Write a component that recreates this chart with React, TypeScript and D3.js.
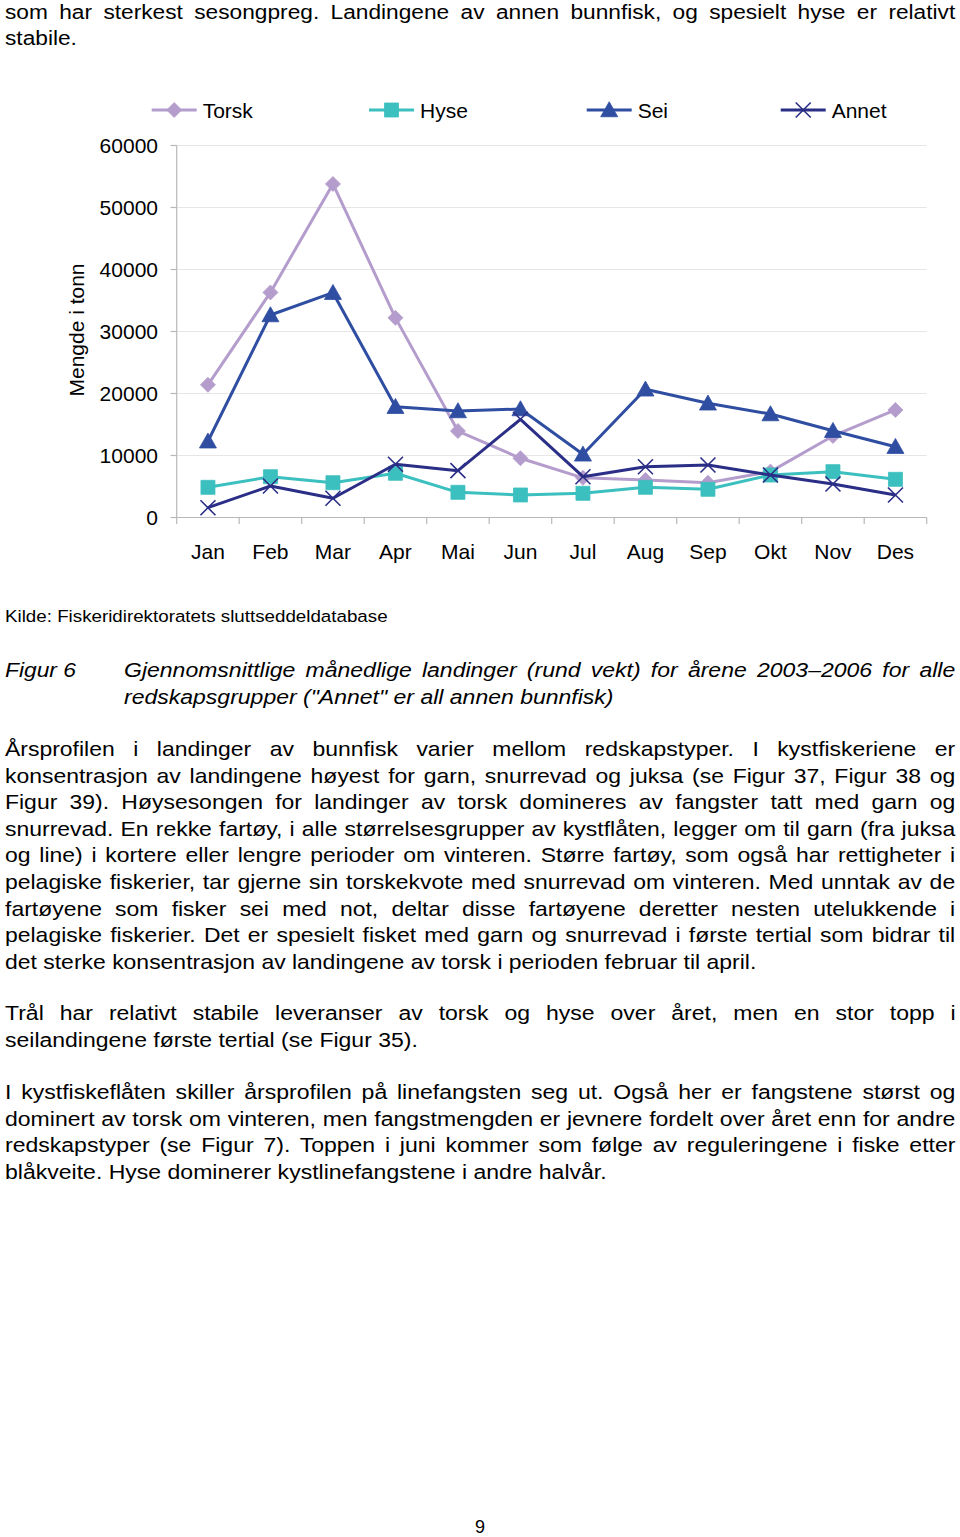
import React, { useEffect, useRef } from "react";
import * as d3 from "d3";

const months = ["Jan", "Feb", "Mar", "Apr", "Mai", "Jun", "Jul", "Aug", "Sep", "Okt", "Nov", "Des"];
const torsk = [21400, 36300, 53800, 32200, 13950, 9550, 6400, 6050, 5600, 7400, 13150, 17350];
const hyse = [4870, 6580, 5610, 7130, 4060, 3630, 3900, 4870, 4550, 6850, 7390, 6160];
const sei = [12300, 32660, 36260, 17870, 17180, 17500, 10190, 20680, 18420, 16690, 14000, 11420];
const annet = [1580, 5080, 3100, 8580, 7550, 15840, 6580, 8190, 8470, 6850, 5400, 3630];
const yTicks = [0, 10000, 20000, 30000, 40000, 50000, 60000];
const seriesNames = ["Torsk", "Hyse", "Sei", "Annet"];
const seriesValues = [torsk, hyse, sei, annet];
const seriesColors = ["#b49dcc", "#3cbfbf", "#2f4ea2", "#2b2e86"];
const seriesMarkers = ["diamond", "square", "triangle", "x"];
const yTitle = "Mengde i tonn";

const topLines = [
  "som har sterkest sesongpreg. Landingene av annen bunnfisk, og spesielt hyse er relativt",
  "stabile.",
];
const sourceLine = "Kilde: Fiskeridirektoratets sluttseddeldatabase";
const captionLabel = "Figur 6";
const captionLines = [
  "Gjennomsnittlige månedlige landinger (rund vekt) for årene 2003–2006 for alle",
  "redskapsgrupper (\"Annet\" er all annen bunnfisk)",
];
const para1 = [
  "Årsprofilen i landinger av bunnfisk varier mellom redskapstyper. I kystfiskeriene er",
  "konsentrasjon av landingene høyest for garn, snurrevad og juksa (se Figur 37, Figur 38 og",
  "Figur 39). Høysesongen for landinger av torsk domineres av fangster tatt med garn og",
  "snurrevad. En rekke fartøy, i alle størrelsesgrupper av kystflåten, legger om til garn (fra juksa",
  "og line) i kortere eller lengre perioder om vinteren. Større fartøy, som også har rettigheter i",
  "pelagiske fiskerier, tar gjerne sin torskekvote med snurrevad om vinteren. Med unntak av de",
  "fartøyene som fisker sei med not, deltar disse fartøyene deretter nesten utelukkende i",
  "pelagiske fiskerier. Det er spesielt fisket med garn og snurrevad i første tertial som bidrar til",
  "det sterke konsentrasjon av landingene av torsk i perioden februar til april.",
];
const para2 = [
  "Trål har relativt stabile leveranser av torsk og hyse over året, men en stor topp i",
  "seilandingene første tertial (se Figur 35).",
];
const para3 = [
  "I kystfiskeflåten skiller årsprofilen på linefangsten seg ut. Også her er fangstene størst og",
  "dominert av torsk om vinteren, men fangstmengden er jevnere fordelt over året enn for andre",
  "redskapstyper (se Figur 7). Toppen i juni kommer som følge av reguleringene i fiske etter",
  "blåkveite. Hyse dominerer kystlinefangstene i andre halvår.",
];
const pageNumber = "9";

const FONT = "'Liberation Sans', Arial, Helvetica, sans-serif";
const legendX = [151.7, 369, 586.7, 780.7];

function markerPath(kind: string, cx: number, cy: number): string {
  const p = d3.path();
  if (kind === "diamond") {
    const r = 7.5;
    p.moveTo(cx, cy - r); p.lineTo(cx + r, cy); p.lineTo(cx, cy + r); p.lineTo(cx - r, cy); p.closePath();
  } else if (kind === "square") {
    const r = 7;
    p.rect(cx - r, cy - r, 2 * r, 2 * r);
  } else if (kind === "triangle") {
    const w = 8.5, h = 15;
    p.moveTo(cx, cy - h * 0.55); p.lineTo(cx + w, cy + h * 0.45); p.lineTo(cx - w, cy + h * 0.45); p.closePath();
  } else {
    const r = 7.5;
    p.moveTo(cx - r, cy - r); p.lineTo(cx + r, cy + r); p.moveTo(cx + r, cy - r); p.lineTo(cx - r, cy + r);
  }
  return p.toString();
}

function drawMarker(g: any, kind: string, cx: number, cy: number, color: string) {
  if (kind === "x") {
    g.append("path").attr("d", markerPath(kind, cx, cy)).attr("stroke", color).attr("stroke-width", 1.6).attr("fill", "none");
  } else {
    g.append("path").attr("d", markerPath(kind, cx, cy)).attr("fill", color).attr("stroke", color).attr("stroke-width", 0.8);
  }
}

function drawBlock(
  g: any,
  lines: string[],
  opts: { x0: number; x1: number; y0: number; dy: number; size: number; italic?: boolean; lastEnd: number }
) {
  const nodes: any[] = [];
  const widths: number[] = [];
  lines.forEach((line) => {
    const t = g
      .append("text")
      .attr("x", 0)
      .attr("y", 0)
      .attr("font-family", FONT)
      .attr("font-size", opts.size)
      .attr("font-style", opts.italic ? "italic" : "normal")
      .attr("fill", "#000")
      .style("white-space", "pre")
      .text(line);
    nodes.push(t);
    widths.push((t.node() as SVGTextElement).getComputedTextLength());
  });
  const last = lines.length - 1;
  const sx = (opts.lastEnd - opts.x0) / widths[last];
  nodes.forEach((t, i) => {
    const y = opts.y0 + i * opts.dy;
    t.attr("transform", `translate(${opts.x0},${y}) scale(${sx},1)`);
    if (i < last) {
      const n = (lines[i].match(/ /g) || []).length;
      if (n > 0) {
        const ws = ((opts.x1 - opts.x0) / sx - widths[i]) / n;
        t.attr("word-spacing", ws);
      }
    }
  });
}

export default function App() {
  const ref = useRef<SVGSVGElement>(null);

  useEffect(() => {
    const svg = d3.select(ref.current);
    svg.selectAll("*").remove();

    // ---------- text ----------
    const tg = svg.append("g");
    drawBlock(tg, topLines, { x0: 5, x1: 956, y0: 18.5, dy: 26.2, size: 21, lastEnd: 77 });
    drawBlock(tg, [sourceLine], { x0: 5, x1: 388, y0: 622, dy: 26, size: 17, lastEnd: 388 });
    drawBlock(tg, [captionLabel], { x0: 5, x1: 76, y0: 677, dy: 26.5, size: 21, italic: true, lastEnd: 76 });
    drawBlock(tg, captionLines, { x0: 124, x1: 956, y0: 677, dy: 27, size: 21, italic: true, lastEnd: 614 });
    drawBlock(tg, para1, { x0: 5, x1: 956, y0: 756, dy: 26.6, size: 20, lastEnd: 757 });
    drawBlock(tg, para2, { x0: 5, x1: 956, y0: 1020, dy: 26.6, size: 21, lastEnd: 418 });
    drawBlock(tg, para3, { x0: 5, x1: 956, y0: 1099, dy: 26.6, size: 21, lastEnd: 607 });
    tg.append("text")
      .attr("x", 480)
      .attr("y", 1533)
      .attr("text-anchor", "middle")
      .attr("font-family", FONT)
      .attr("font-size", 18)
      .text(pageNumber);

    // ---------- chart ----------
    const x = d3.scaleBand<string>().domain(months).range([176.7, 926.7]);
    const y = d3.scaleLinear().domain([0, 60000]).range([517.5, 145.5]);
    const cg = svg.append("g");

    // gridlines
    cg.selectAll("line.grid")
      .data(yTicks.filter((d) => d > 0))
      .enter()
      .append("line")
      .attr("x1", 176.7)
      .attr("x2", 926.7)
      .attr("y1", (d) => y(d))
      .attr("y2", (d) => y(d))
      .attr("stroke", "#e6e6e6")
      .attr("stroke-width", 1);

    // y axis
    cg.append("line").attr("x1", 176.7).attr("x2", 176.7).attr("y1", y(60000)).attr("y2", y(0)).attr("stroke", "#b8b8b8").attr("stroke-width", 1.2);
    cg.selectAll("line.ytick")
      .data(yTicks)
      .enter()
      .append("line")
      .attr("x1", 170.5)
      .attr("x2", 176.7)
      .attr("y1", (d) => y(d))
      .attr("y2", (d) => y(d))
      .attr("stroke", "#b8b8b8")
      .attr("stroke-width", 1.2);
    cg.selectAll("text.ylab")
      .data(yTicks)
      .enter()
      .append("text")
      .attr("x", 158)
      .attr("y", (d) => y(d) + 7.5)
      .attr("text-anchor", "end")
      .attr("font-family", FONT)
      .attr("font-size", 21)
      .text((d) => String(d));

    // x axis
    cg.append("line").attr("x1", 176.7).attr("x2", 926.7).attr("y1", y(0)).attr("y2", y(0)).attr("stroke", "#b8b8b8").attr("stroke-width", 1.2);
    const bounds = months.map((m) => x(m) as number).concat([926.7]);
    cg.selectAll("line.xtick")
      .data(bounds)
      .enter()
      .append("line")
      .attr("x1", (d) => d)
      .attr("x2", (d) => d)
      .attr("y1", y(0))
      .attr("y2", y(0) + 6.5)
      .attr("stroke", "#b8b8b8")
      .attr("stroke-width", 1.2);
    cg.selectAll("text.xlab")
      .data(months)
      .enter()
      .append("text")
      .attr("x", (d) => (x(d) as number) + x.bandwidth() / 2)
      .attr("y", 558.5)
      .attr("text-anchor", "middle")
      .attr("font-family", FONT)
      .attr("font-size", 21)
      .text((d) => d);

    // y title
    cg.append("text")
      .attr("transform", `translate(84,330) rotate(-90)`)
      .attr("text-anchor", "middle")
      .attr("font-family", FONT)
      .attr("font-size", 21)
      .text(yTitle);

    // series
    const line = d3
      .line<number>()
      .x((_, i) => (x(months[i]) as number) + x.bandwidth() / 2)
      .y((d) => y(d));
    seriesValues.forEach((vals, si) => {
      const sg = cg.append("g");
      sg.append("path").attr("d", line(vals) as string).attr("fill", "none").attr("stroke", seriesColors[si]).attr("stroke-width", 3).attr("stroke-linejoin", "round");
      vals.forEach((v, i) => {
        drawMarker(sg, seriesMarkers[si], (x(months[i]) as number) + x.bandwidth() / 2, y(v), seriesColors[si]);
      });
    });

    // legend
    seriesNames.forEach((name, si) => {
      const lg = cg.append("g");
      const lx = legendX[si];
      const ly = 110;
      lg.append("line").attr("x1", lx).attr("x2", lx + 45).attr("y1", ly).attr("y2", ly).attr("stroke", seriesColors[si]).attr("stroke-width", 3);
      drawMarker(lg, seriesMarkers[si], lx + 22.5, ly, seriesColors[si]);
      lg.append("text")
        .attr("x", lx + 51)
        .attr("y", ly + 7.5)
        .attr("font-family", FONT)
        .attr("font-size", 21)
        .text(name);
    });
  }, []);

  return (
    <svg
      ref={ref}
      width={960}
      height={1537}
      style={{ position: "absolute", left: 0, top: 0, background: "#fff" }}
    />
  );
}
